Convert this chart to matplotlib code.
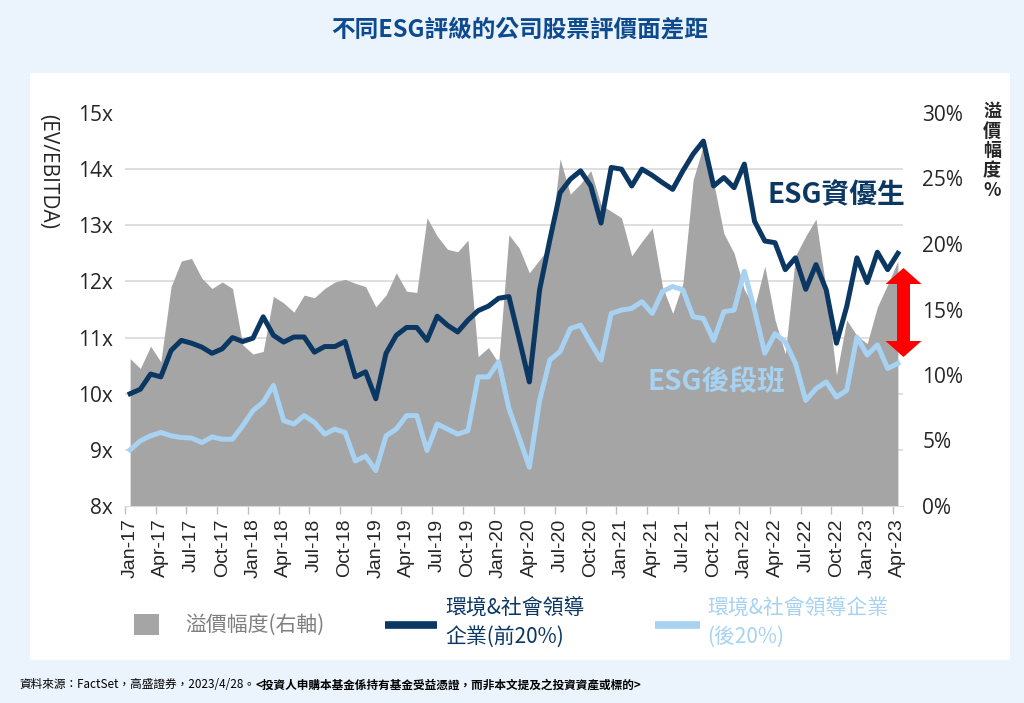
import numpy as np
import matplotlib
matplotlib.use('Agg')
import matplotlib.pyplot as plt
from matplotlib.patches import Rectangle, Polygon
from matplotlib.lines import Line2D

# monthly data, Jan-17 .. Apr-23
tick_labels = ['Jan-17', 'Apr-17', 'Jul-17', 'Oct-17', 'Jan-18', 'Apr-18', 'Jul-18', 'Oct-18',
               'Jan-19', 'Apr-19', 'Jul-19', 'Oct-19', 'Jan-20', 'Apr-20', 'Jul-20', 'Oct-20',
               'Jan-21', 'Apr-21', 'Jul-21', 'Oct-21', 'Jan-22', 'Apr-22', 'Jul-22', 'Oct-22',
               'Jan-23', 'Apr-23']

# 環境&社會領導企業(前20%)  EV/EBITDA
top20 = [10.0, 10.08, 10.35, 10.3, 10.77, 10.95, 10.9, 10.83, 10.72, 10.8, 11.0, 10.93, 10.99,
         11.37, 11.04, 10.92, 11.01, 11.01, 10.74,
         10.84, 10.84, 10.93, 10.3, 10.39, 9.91, 10.72, 11.04, 11.18, 11.18, 10.95, 11.38,
         11.22, 11.1, 11.31, 11.48, 11.56, 11.7,
         11.73, 10.98, 10.21, 11.85, 12.74, 13.58, 13.82, 13.97, 13.7, 13.04, 14.03, 14.0,
         13.7, 14.0, 13.89, 13.76, 13.64, 13.97,
         14.27, 14.5, 13.7, 13.85, 13.67, 14.09, 13.07, 12.72, 12.69, 12.21, 12.42, 11.86,
         12.3, 11.85, 10.9, 11.55, 12.42, 11.98, 12.52, 12.21, 12.5]

# 環境&社會領導企業(後20%)  EV/EBITDA
bottom20 = [9.0, 9.16, 9.25, 9.31, 9.25, 9.22, 9.21, 9.13, 9.23, 9.19, 9.19, 9.43, 9.70,
            9.85, 10.15, 9.52, 9.46, 9.61, 9.49,
            9.28, 9.37, 9.31, 8.8, 8.89, 8.63, 9.25, 9.37, 9.61, 9.61, 8.99, 9.46,
            9.37, 9.28, 9.34, 10.3, 10.3, 10.57,
            9.74, 9.22, 8.69, 9.88, 10.6, 10.75, 11.16, 11.22, 10.9, 10.6, 11.43, 11.49,
            11.52, 11.64, 11.43, 11.82, 11.91, 11.85,
            11.37, 11.34, 10.95, 11.46, 11.49, 12.18, 11.49, 10.72, 11.07, 10.92, 10.54, 9.88,
            10.09, 10.21, 9.94, 10.06, 11.01, 10.69, 10.87, 10.45, 10.54]

# 溢價幅度 (%)
premium = [11.25, 10.5, 12.2, 11.0, 16.75, 18.7, 18.9, 17.4, 16.6, 17.1, 16.6, 12.3, 11.6,
           11.8, 16.0, 15.5, 14.8, 16.1, 15.9,
           16.6, 17.1, 17.3, 17.0, 16.75, 15.2, 16.1, 17.8, 16.4, 16.3, 22.0, 20.6,
           19.6, 19.4, 20.3, 11.4, 12.1, 10.9,
           20.7, 19.7, 17.8, 18.8, 19.8, 26.5, 23.8, 24.6, 25.6, 23.0, 22.5, 22.0,
           19.1, 20.2, 21.2, 16.75, 14.7, 17.0,
           24.9, 27.5, 24.7, 20.8, 19.3, 16.5, 15.2, 18.3, 14.2, 11.6, 19.1, 20.6,
           21.9, 16.5, 10.0, 14.2, 13.0, 12.4, 15.2, 16.9, 18.7]

NAVY = '#0B3763'
LIGHT = '#A7D2F2'
GREY = '#A5A5A5'
CJK = ['Noto Sans CJK TC', 'DejaVu Sans']

plt.rcParams['font.family'] = ['Open Sans', 'Noto Sans CJK TC', 'DejaVu Sans']

W, H = 1024, 703
def fx(x):
    return x / W
def fy(y):
    return 1 - y / H

fig = plt.figure(figsize=(10.24, 7.03), dpi=100, facecolor='#EBF3FD')
fig.patches.append(Rectangle((fx(30), fy(660)), fx(1010) - fx(30), fy(73) - fy(660),
                             transform=fig.transFigure, facecolor='white', edgecolor='none', zorder=-10))

ax = fig.add_axes([fx(125), fy(506), fx(903) - fx(125), fy(113) - fy(506)])
ax2 = ax.twinx()
ax2.set_zorder(1)
ax.set_zorder(2)
ax.patch.set_visible(False)
ax2.patch.set_visible(False)

x = np.arange(len(top20))

# premium area on the right axis
ax2.fill_between(x, premium, 0, color=GREY, linewidth=0, zorder=2)
ax2.set_ylim(0, 30)
ax2.set_yticks(np.arange(0, 31, 5))
ax2.set_yticklabels([f'{v}%' for v in range(0, 31, 5)])
ax2.set_yticks(np.linspace(0, 30, 8), minor=True)
ax2.grid(which='minor', axis='y', color='#D9D9D9', linewidth=1.2, zorder=0)
ax2.tick_params(which='both', length=0)
ax2.tick_params(axis='y', labelsize=15, pad=14, labelcolor='#262626')
for s in ax2.spines.values():
    s.set_visible(False)

# EV/EBITDA lines on the left axis
ax.plot(x, top20, color=NAVY, lw=3.6, zorder=3)
ax.plot(x, bottom20, color=LIGHT, lw=3.6, zorder=3)
ax.set_ylim(8, 15)
ax.set_yticks(range(8, 16))
ax.set_yticklabels([f'{v}x' for v in range(8, 16)])
ax.tick_params(axis='y', length=0, labelsize=15, pad=9, labelcolor='#262626')
ax.set_xlim(-0.5, 75.5)
ax.set_xticks(x[::3])
ax.set_xticklabels(tick_labels, rotation=90, fontsize=14, family='Liberation Sans', color='#262626')
ax.set_xticks(np.arange(-0.5, 75, 3), minor=True)
ax.tick_params(axis='x', which='major', length=0, pad=9)
ax.tick_params(axis='x', which='minor', length=6, color='#BFBFBF', width=1)
for k in ['top', 'left', 'right']:
    ax.spines[k].set_visible(False)
ax.spines['bottom'].set_color('#D9D9D9')

# axis titles
fig.text(fx(48), fy(172), '(EV/EBITDA)', rotation=-90, ha='center', va='center',
         fontsize=15, color='#262626')
fig.text(fx(992), fy(102), '溢\n價\n幅\n度\n%', ha='center', va='top', fontsize=13,
         family=CJK, fontweight='bold', color='#262626', linespacing=1.05)

# series annotations
fig.text(fx(836), fy(195), 'ESG資優生', ha='center', va='center', fontsize=20,
         fontweight='bold', family=CJK, color=NAVY)
fig.text(fx(716), fy(382), 'ESG後段班', ha='center', va='center', fontsize=20,
         fontweight='bold', family=CJK, color=LIGHT)

# red double arrow
cx, yt, yb, hw, hl, sw = 903.5, 268, 357, 18, 16, 6.5
pts = [(cx, yt), (cx + hw, yt + hl), (cx + sw, yt + hl), (cx + sw, yb - hl), (cx + hw, yb - hl),
       (cx, yb), (cx - hw, yb - hl), (cx - sw, yb - hl), (cx - sw, yt + hl), (cx - hw, yt + hl)]
fig.patches.append(Polygon([(fx(a), fy(b)) for a, b in pts], closed=True, transform=fig.transFigure,
                           facecolor='#FF0000', edgecolor='none', zorder=5))

# title
fig.text(fx(520), fy(30), '不同ESG評級的公司股票評價面差距', ha='center', va='center', fontsize=17,
         fontweight='bold', family=CJK, color='#0D4A8E')

# legend
fig.patches.append(Rectangle((fx(134), fy(635)), fx(159) - fx(134), fy(614) - fy(635),
                             transform=fig.transFigure, facecolor=GREY, edgecolor='none'))
fig.text(fx(185), fy(625), '溢價幅度(右軸)', va='center', fontsize=15, family=CJK, color='#7F7F7F')
fig.add_artist(Line2D([fx(385), fx(437)], [fy(625), fy(625)], lw=5.5, color=NAVY,
                      solid_capstyle='butt', transform=fig.transFigure))
fig.text(fx(445), fy(623), '環境&社會領導\n企業(前20%)', va='center', fontsize=15, family=CJK,
         color=NAVY, linespacing=1.35)
fig.add_artist(Line2D([fx(655), fx(700)], [fy(625), fy(625)], lw=5.5, color=LIGHT,
                      solid_capstyle='butt', transform=fig.transFigure))
fig.text(fx(707), fy(623), '環境&社會領導企業\n(後20%)', va='center', fontsize=15, family=CJK,
         color=LIGHT, linespacing=1.35)

# source note
fig.text(fx(20), fy(685), '資料來源：FactSet，高盛證券，2023/4/28。', va='center', fontsize=8.4,
         family=CJK, color='black')
fig.text(fx(256), fy(685), '<投資人申購本基金係持有基金受益憑證，而非本文提及之投資資產或標的>',
         va='center', fontsize=8.4, family=CJK, fontweight='bold', color='black')

plt.savefig('out.png', dpi=100, facecolor=fig.get_facecolor())
